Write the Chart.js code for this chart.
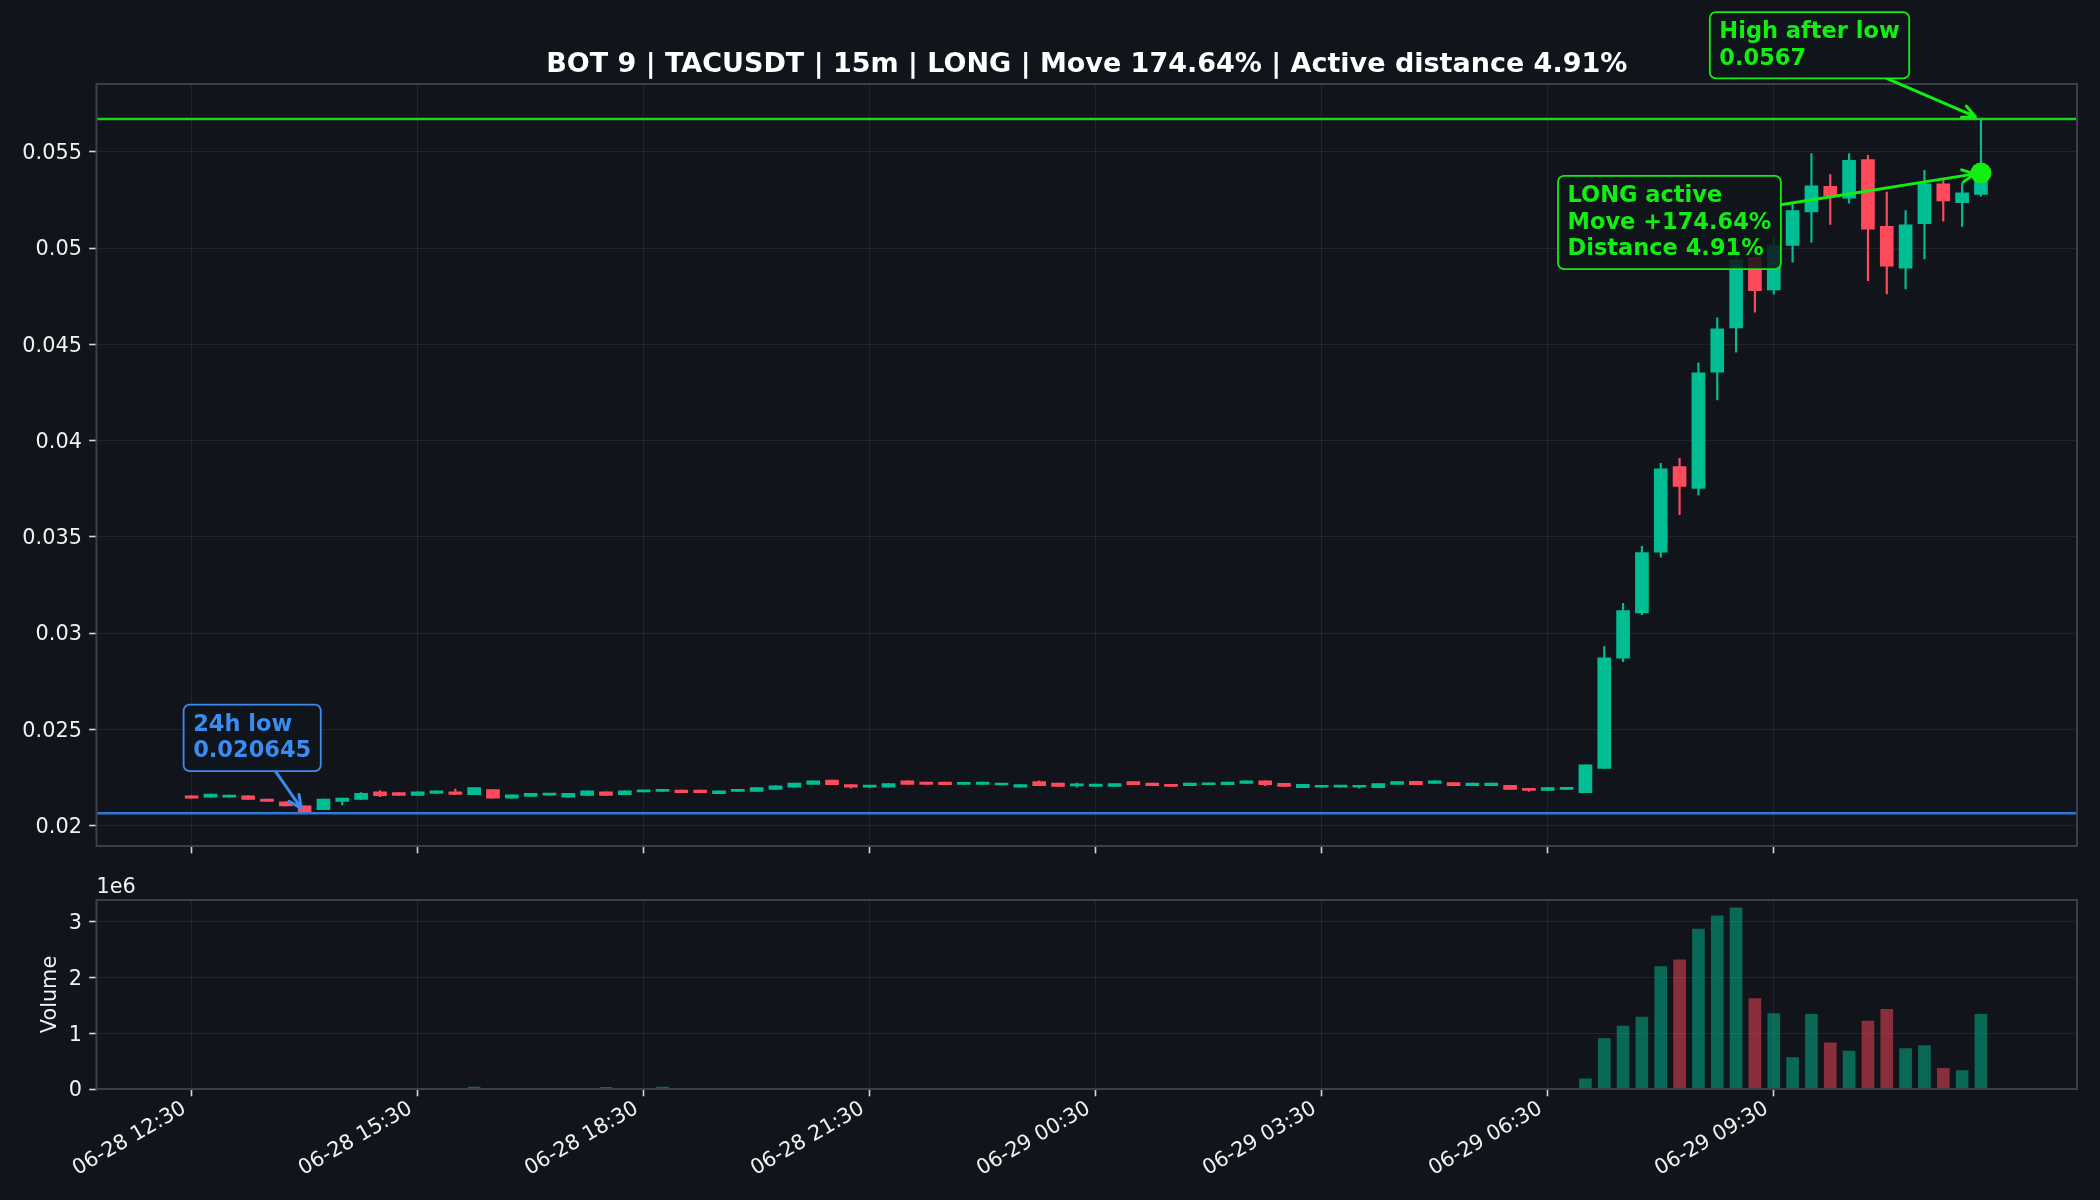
<!DOCTYPE html>
<html>
<head>
<meta charset="utf-8">
<title>BOT 9 | TACUSDT | 15m</title>
<script src="https://cdn.jsdelivr.net/npm/chart.js@4.4.1/dist/chart.umd.min.js"></script>
<style>
  html, body { margin: 0; padding: 0; background: #11141b; }
  #wrap { position: relative; width: 2100px; height: 1200px; background: #11141b; }
  canvas { position: absolute; left: 0; }
  #priceChart { top: 0; }
  #volumeChart { top: 870px; }
</style>
</head>
<body>
<div id="wrap">
  <canvas id="priceChart" width="2100" height="870"></canvas>
  <canvas id="volumeChart" width="2100" height="330"></canvas>
</div>
<script>
// 15m candles, index 0 = 06-28 12:30 ... index 95 = 06-29 12:15
const opens = [
  0.02155, 0.02147, 0.02147, 0.02155, 0.02138, 0.02124, 0.02103, 0.02083, 0.02126, 0.02136,
  0.02176, 0.02171, 0.02157, 0.02167, 0.02176, 0.02160, 0.02187, 0.02143, 0.02152, 0.02158,
  0.02147, 0.02157, 0.02176, 0.02161, 0.02175, 0.02178, 0.02185, 0.02185, 0.02166, 0.02178,
  0.02178, 0.02188, 0.02199, 0.02214, 0.02237, 0.02213, 0.02200, 0.02199, 0.02233, 0.02226,
  0.02226, 0.02214, 0.02214, 0.02211, 0.02199, 0.02228, 0.02221, 0.02206, 0.02204, 0.02204,
  0.02228, 0.02221, 0.02213, 0.02207, 0.02212, 0.02212, 0.02219, 0.02233, 0.02219, 0.02197,
  0.02199, 0.02200, 0.02199, 0.02197, 0.02214, 0.02230, 0.02219, 0.02223, 0.02207, 0.02207,
  0.02209, 0.02192, 0.02183, 0.02188, 0.02171, 0.02297, 0.02869, 0.03105, 0.03420, 0.03865,
  0.03752, 0.04355, 0.04585, 0.04952, 0.04783, 0.05013, 0.05188, 0.05320, 0.05259, 0.05460,
  0.05113, 0.04895, 0.05126, 0.05334, 0.05235, 0.05278
];
const highs = [
  0.02156, 0.02164, 0.02159, 0.02155, 0.02138, 0.02124, 0.02103, 0.02138, 0.02143, 0.02171,
  0.02182, 0.02171, 0.02176, 0.02181, 0.02190, 0.02197, 0.02187, 0.02160, 0.02168, 0.02164,
  0.02168, 0.02181, 0.02176, 0.02181, 0.02181, 0.02185, 0.02185, 0.02185, 0.02180, 0.02183,
  0.02197, 0.02207, 0.02221, 0.02232, 0.02237, 0.02213, 0.02207, 0.02218, 0.02233, 0.02226,
  0.02226, 0.02221, 0.02226, 0.02216, 0.02213, 0.02233, 0.02221, 0.02221, 0.02216, 0.02218,
  0.02228, 0.02221, 0.02213, 0.02221, 0.02221, 0.02226, 0.02232, 0.02233, 0.02219, 0.02214,
  0.02207, 0.02207, 0.02207, 0.02218, 0.02228, 0.02230, 0.02233, 0.02223, 0.02221, 0.02221,
  0.02209, 0.02192, 0.02197, 0.02197, 0.02316, 0.02930, 0.03155, 0.03451, 0.03882, 0.03908,
  0.04404, 0.04637, 0.05010, 0.04990, 0.05060, 0.05230, 0.05490, 0.05382, 0.05490, 0.05481,
  0.05290, 0.05195, 0.05403, 0.05350, 0.05337, 0.05670
];
const lows = [
  0.02143, 0.02147, 0.02147, 0.02136, 0.02126, 0.02102, 0.020645, 0.02083, 0.02107, 0.02136,
  0.02150, 0.02157, 0.02157, 0.02167, 0.02162, 0.02160, 0.02142, 0.02143, 0.02152, 0.02158,
  0.02147, 0.02157, 0.02157, 0.02161, 0.02175, 0.02178, 0.02171, 0.02171, 0.02166, 0.02178,
  0.02178, 0.02188, 0.02199, 0.02214, 0.02213, 0.02194, 0.02197, 0.02199, 0.02214, 0.02214,
  0.02213, 0.02214, 0.02214, 0.02211, 0.02199, 0.02207, 0.02204, 0.02199, 0.02204, 0.02204,
  0.02213, 0.02207, 0.02204, 0.02207, 0.02212, 0.02212, 0.02219, 0.02207, 0.02204, 0.02197,
  0.02199, 0.02200, 0.02195, 0.02197, 0.02214, 0.02213, 0.02219, 0.02207, 0.02207, 0.02207,
  0.02188, 0.02178, 0.02183, 0.02188, 0.02171, 0.02297, 0.02852, 0.03096, 0.03394, 0.03615,
  0.03716, 0.04211, 0.04459, 0.04667, 0.04760, 0.04926, 0.05030, 0.05122, 0.05233, 0.04830,
  0.04762, 0.04788, 0.04944, 0.05139, 0.05112, 0.05270
];
const closes = [
  0.02143, 0.02164, 0.02159, 0.02136, 0.02126, 0.02102, 0.02069, 0.02138, 0.02143, 0.02167,
  0.02155, 0.02157, 0.02176, 0.02181, 0.02162, 0.02197, 0.02142, 0.02160, 0.02168, 0.02164,
  0.02168, 0.02181, 0.02157, 0.02181, 0.02181, 0.02185, 0.02171, 0.02171, 0.02180, 0.02183,
  0.02197, 0.02207, 0.02221, 0.02232, 0.02213, 0.02199, 0.02207, 0.02218, 0.02214, 0.02214,
  0.02213, 0.02221, 0.02226, 0.02216, 0.02213, 0.02207, 0.02204, 0.02213, 0.02216, 0.02218,
  0.02213, 0.02207, 0.02204, 0.02221, 0.02221, 0.02226, 0.02232, 0.02213, 0.02204, 0.02214,
  0.02207, 0.02207, 0.02207, 0.02218, 0.02228, 0.02213, 0.02233, 0.02207, 0.02221, 0.02221,
  0.02188, 0.02183, 0.02197, 0.02197, 0.02316, 0.02871, 0.03117, 0.03418, 0.03853, 0.03762,
  0.04352, 0.04580, 0.04940, 0.04779, 0.05013, 0.05195, 0.05323, 0.05271, 0.05455, 0.05098,
  0.04906, 0.05121, 0.05334, 0.05245, 0.05287, 0.05390
];
const volumes = [
  6000, 9000, 5000, 8000, 7000, 9000, 9000, 10000, 9000, 8000,
  9000, 6000, 7000, 5000, 9000, 35000, 9000, 8000, 6000, 4000,
  7000, 8000, 30000, 9000, 5000, 35000, 7000, 6000, 6000, 4000,
  9000, 8000, 9000, 9000, 8000, 6000, 4000, 7000, 9000, 5000,
  5000, 3000, 6000, 3000, 6000, 9000, 7000, 4000, 5000, 6000,
  7000, 5000, 4000, 6000, 4000, 6000, 6000, 9000, 6000, 7000,
  3000, 3000, 4000, 8000, 6000, 7000, 6000, 7000, 5000, 5000,
  10000, 6000, 7000, 5000, 180000, 904000, 1126000, 1287000, 2190000, 2310000,
  2860000, 3100000, 3240000, 1620000, 1350000, 563000, 1335000, 826000, 677000, 1216000,
  1425000, 725000, 778000, 371000, 329000, 1335000
];

// axis ticks
const timeTickIdx = [0, 12, 24, 36, 48, 60, 72, 84];
const timeTickLabels = ['06-28 12:30', '06-28 15:30', '06-28 18:30', '06-28 21:30',
  '06-29 00:30', '06-29 03:30', '06-29 06:30', '06-29 09:30'];
const priceTicks = [0.02, 0.025, 0.03, 0.035, 0.04, 0.045, 0.05, 0.055];
const priceTickLabels = ['0.02', '0.025', '0.03', '0.035', '0.04', '0.045', '0.05', '0.055'];
const volumeTicks = [0, 1e6, 2e6, 3e6];
const volumeTickLabels = ['0', '1', '2', '3'];

// signal info
const LOW_24H = 0.020645;
const LOW_IDX = 6;
const HIGH_AFTER_LOW = 0.0567;
const HIGH_IDX = 95;
const LAST_IDX = 95;
const MOVE_PCT = '174.64';
const DISTANCE_PCT = '4.91';

// colors
const UP = '#00be94';
const DOWN = '#ff4a5c';
const UP_VOL = 'rgba(0,190,148,0.5)';
const DOWN_VOL = 'rgba(255,74,92,0.5)';
const LIME = '#12ee12';
const LIME_LINE = '#1fd01f';
const BLUE = '#3b8cf0';
const BLUE_LINE = '#2f78d6';
const GRID = 'rgba(255,255,255,0.07)';
const SPINE = '#3b3f49';
const TEXT = '#f2f2f2';
const TICK = '#d8d8d8';
const FONT = '"DejaVu Sans", sans-serif';

Chart.defaults.font.family = FONT;
Chart.defaults.font.size = 20.8;
Chart.defaults.color = TEXT;

const isUp = closes.map((c, i) => c >= opens[i]);
const candleColors = isUp.map(u => (u ? UP : DOWN));
const volumeColors = isUp.map(u => (u ? UP_VOL : DOWN_VOL));

// helpers
function drawFrame(chart) {
    const { ctx, chartArea: a } = chart;
    ctx.save();
    ctx.strokeStyle = SPINE;
    ctx.lineWidth = 2;
    ctx.strokeRect(a.left, a.top, a.right - a.left, a.bottom - a.top);
    ctx.restore();
}

function drawLevel(chart, value, color) {
    const { ctx, chartArea: a, scales } = chart;
    const py = scales.y.getPixelForValue(value);
    ctx.save();
    ctx.strokeStyle = color;
    ctx.lineWidth = 2.4;
    ctx.beginPath();
    ctx.moveTo(a.left, py);
    ctx.lineTo(a.right, py);
    ctx.stroke();
    ctx.restore();
}

// annotation box with arrow pointing at target (pixel coords)
function drawNote(ctx, lines, color, textX, baseY, target) {
    const lineGap = 26.7;
    ctx.save();
    ctx.font = 'bold 22.5px ' + FONT;
    const w = Math.max(...lines.map(t => ctx.measureText(t).width));
    const box = {
        l: textX - 9.5,
        r: textX + w + 9.5,
        t: baseY - 26,
        b: baseY + (lines.length - 1) * lineGap + 13.7
    };

    // arrow from box edge to target
    const cx = (box.l + box.r) / 2;
    const cy = (box.t + box.b) / 2;
    const dx = target.x - cx;
    const dy = target.y - cy;
    const tx = dx !== 0 ? ((dx > 0 ? box.r : box.l) - cx) / dx : Infinity;
    const ty = dy !== 0 ? ((dy > 0 ? box.b : box.t) - cy) / dy : Infinity;
    const t0 = Math.min(tx, ty);
    const sx = cx + dx * t0;
    const sy = cy + dy * t0;
    const len = Math.hypot(dx, dy);
    const ex = target.x - (dx / len) * 6;
    const ey = target.y - (dy / len) * 6;
    const ang = Math.atan2(ey - sy, ex - sx);
    const head = 14;
    const spread = 0.45;

    ctx.strokeStyle = color;
    ctx.lineWidth = 3;
    ctx.lineCap = 'round';
    ctx.lineJoin = 'round';
    ctx.beginPath();
    ctx.moveTo(sx, sy);
    ctx.lineTo(ex, ey);
    ctx.moveTo(ex - head * Math.cos(ang - spread), ey - head * Math.sin(ang - spread));
    ctx.lineTo(ex, ey);
    ctx.lineTo(ex - head * Math.cos(ang + spread), ey - head * Math.sin(ang + spread));
    ctx.stroke();

    // box
    ctx.beginPath();
    ctx.roundRect(box.l, box.t, box.r - box.l, box.b - box.t, 6);
    ctx.fillStyle = 'rgba(17,20,27,0.85)';
    ctx.fill();
    ctx.lineWidth = 1.8;
    ctx.stroke();

    // text
    ctx.fillStyle = color;
    ctx.textAlign = 'left';
    ctx.textBaseline = 'alphabetic';
    lines.forEach((t, i) => ctx.fillText(t, textX, baseY + i * lineGap));
    ctx.restore();
}

const X_MIN = -5.05;
const X_MAX = 100.1;

function timeAxis(showLabels, height) {
    return {
        type: 'linear',
        min: X_MIN,
        max: X_MAX,
        offset: false,
        bounds: 'data',
        grid: { color: GRID, lineWidth: 1, offset: false, tickColor: TICK, tickLength: 7.3, tickWidth: 1.6 },
        border: { display: false },
        afterBuildTicks: s => { s.ticks = timeTickIdx.map(v => ({ value: v })); },
        afterFit: s => { s.height = height; },
        ticks: {
            display: showLabels,
            autoSkip: false,
            minRotation: 30,
            maxRotation: 30,
            padding: 0,
            labelOffset: -7,
            color: TEXT,
            callback: (v, i) => timeTickLabels[i]
        }
    };
}

const priceOverlay = {
    id: 'priceOverlay',
    afterDatasetsDraw(chart) {
        drawLevel(chart, HIGH_AFTER_LOW, LIME_LINE);
        drawLevel(chart, LOW_24H, BLUE_LINE);
    },
    afterDraw(chart) {
        const { ctx, chartArea: a, scales: { x, y } } = chart;
        drawFrame(chart);

        // title
        ctx.save();
        ctx.font = 'bold 27px ' + FONT;
        ctx.fillStyle = '#ffffff';
        ctx.textAlign = 'center';
        ctx.textBaseline = 'alphabetic';
        ctx.fillText(`BOT 9 | TACUSDT | 15m | LONG | Move ${MOVE_PCT}% | Active distance ${DISTANCE_PCT}%`,
            (a.left + a.right) / 2, a.top - 12.3);
        ctx.restore();

        const lowPt = { x: x.getPixelForValue(LOW_IDX), y: y.getPixelForValue(LOW_24H) };
        drawNote(ctx, ['24h low', String(LOW_24H)], BLUE, lowPt.x - 111.5, lowPt.y - 82.5, lowPt);

        const highPt = { x: x.getPixelForValue(HIGH_IDX), y: y.getPixelForValue(HIGH_AFTER_LOW) };
        drawNote(ctx, ['High after low', String(HIGH_AFTER_LOW)], LIME, highPt.x - 261.6, highPt.y - 81, highPt);

        const lastPt = { x: x.getPixelForValue(LAST_IDX), y: y.getPixelForValue(closes[LAST_IDX]) };
        drawNote(ctx, ['LONG active', `Move +${MOVE_PCT}%`, `Distance ${DISTANCE_PCT}%`], LIME,
            lastPt.x - 413.4, lastPt.y + 29, lastPt);
    }
};

const volumeOverlay = {
    id: 'volumeOverlay',
    afterDraw(chart) {
        const { ctx, chartArea: a } = chart;
        drawFrame(chart);
        ctx.save();
        ctx.font = '20.8px ' + FONT;
        ctx.fillStyle = TEXT;
        ctx.textAlign = 'left';
        ctx.textBaseline = 'alphabetic';
        ctx.fillText('1e6', a.left, a.top - 7);
        ctx.restore();
    }
};

const bodyData = opens.map((o, i) => ({ x: i, y: [o, closes[i]] }));
const wickData = lows.map((l, i) => ({ x: i, y: [l, highs[i]] }));
const volumeData = volumes.map((v, i) => ({ x: i, y: v }));

new Chart(document.getElementById('priceChart'), {
    type: 'bar',
    data: {
        datasets: [
            {
                type: 'scatter',
                label: 'last',
                data: [{ x: LAST_IDX, y: closes[LAST_IDX] }],
                pointRadius: 10.5,
                pointBackgroundColor: LIME,
                pointBorderWidth: 0,
                order: 0
            },
            {
                label: 'body',
                data: bodyData,
                backgroundColor: candleColors,
                borderWidth: 0,
                barThickness: 13,
                minBarLength: 2,
                grouped: false,
                order: 1
            },
            {
                label: 'wick',
                data: wickData,
                backgroundColor: candleColors,
                borderWidth: 0,
                barThickness: 1.5,
                grouped: false,
                order: 2
            }
        ]
    },
    options: {
        responsive: false,
        animation: false,
        devicePixelRatio: 1,
        layout: { padding: { top: 84, right: 23, left: 0, bottom: 0 } },
        plugins: { legend: { display: false }, tooltip: { enabled: false } },
        scales: {
            x: timeAxis(false, 24),
            y: {
                type: 'linear',
                min: 0.01894,
                max: 0.05852,
                bounds: 'data',
                beginAtZero: false,
                grid: { color: GRID, lineWidth: 1, tickColor: TICK, tickLength: 7.3, tickWidth: 1.6 },
                border: { display: false },
                afterBuildTicks: s => { s.ticks = priceTicks.map(v => ({ value: v })); },
                afterFit: s => { s.width = 96.5; },
                ticks: { autoSkip: false, padding: 7.3, labelOffset: 2, color: TEXT, callback: (v, i) => priceTickLabels[i] }
            }
        }
    },
    plugins: [priceOverlay]
});

new Chart(document.getElementById('volumeChart'), {
    type: 'bar',
    data: {
        datasets: [{
            label: 'Volume',
            data: volumeData,
            backgroundColor: volumeColors,
            borderWidth: 0,
            barThickness: 12
        }]
    },
    options: {
        responsive: false,
        animation: false,
        devicePixelRatio: 1,
        layout: { padding: { top: 30, right: 23, left: 0, bottom: 0 } },
        plugins: { legend: { display: false }, tooltip: { enabled: false } },
        scales: {
            x: timeAxis(true, 111),
            y: {
                type: 'linear',
                min: 0,
                max: 3382000,
                bounds: 'data',
                grid: { color: GRID, lineWidth: 1, tickColor: TICK, tickLength: 7.3, tickWidth: 1.6 },
                border: { display: false },
                afterBuildTicks: s => { s.ticks = volumeTicks.map(v => ({ value: v })); },
                afterFit: s => { s.width = 96.5; },
                title: { display: true, text: 'Volume', color: TEXT, font: { size: 20.8 }, padding: { top: 38.5, bottom: 0 } },
                ticks: { autoSkip: false, padding: 7.3, labelOffset: 2, color: TEXT, callback: (v, i) => volumeTickLabels[i] }
            }
        }
    },
    plugins: [volumeOverlay]
});
</script>
</body>
</html>
